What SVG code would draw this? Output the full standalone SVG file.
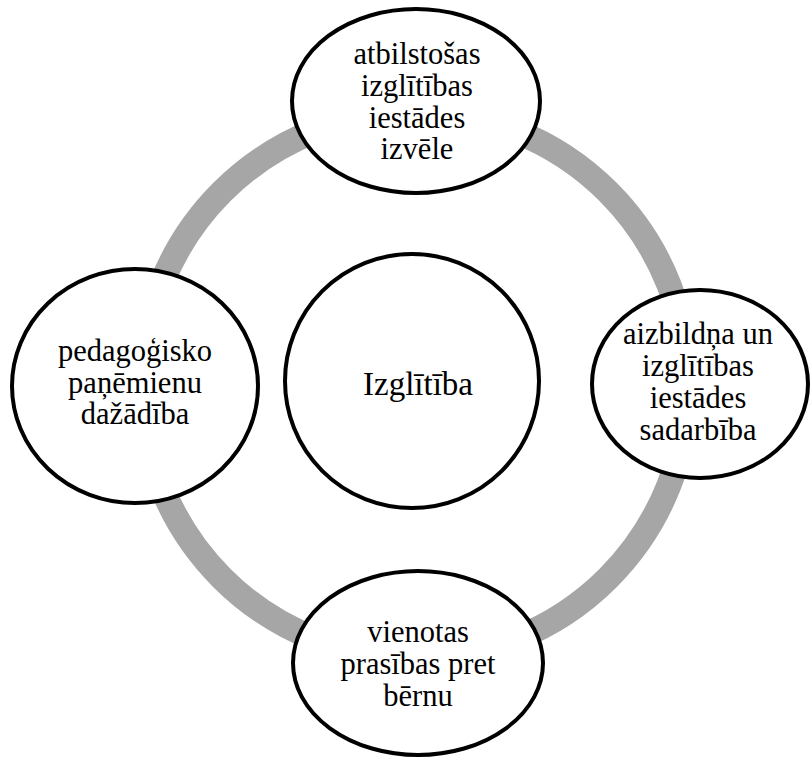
<svg xmlns="http://www.w3.org/2000/svg" width="811" height="758" viewBox="0 0 811 758">
  <style>
    .node { fill: #ffffff; stroke: #000000; stroke-width: 4; }
    .ring { fill: none; stroke: #a6a6a6; stroke-width: 25; }
    text { font-family: "Liberation Serif", "Times New Roman", serif; font-size: 30.5px; fill: #000000; text-anchor: middle; }
  </style>
  <rect width="811" height="758" fill="#ffffff"/>
  <g id="connectors">
    <circle class="ring" cx="415" cy="385" r="273"/>
  </g>
  <g id="center">
    <circle class="node" cx="412" cy="381" r="127"/>
    <text x="418" y="395" style="font-size:33px">Izglītība</text>
  </g>
  <g id="top">
    <ellipse class="node" cx="416" cy="101" rx="124" ry="92"/>
    <text x="417" y="64">atbilstošas</text>
    <text x="417" y="96">izglītības</text>
    <text x="417" y="127.5">iestādes</text>
    <text x="417" y="159">izvēle</text>
  </g>
  <g id="left">
    <ellipse class="node" cx="135" cy="386" rx="123" ry="117"/>
    <text x="135" y="361">pedagoģisko</text>
    <text x="135" y="392.5">paņēmienu</text>
    <text x="135" y="424">dažādība</text>
  </g>
  <g id="right">
    <ellipse class="node" cx="700" cy="384" rx="108" ry="94"/>
    <text x="698" y="344">aizbildņa un</text>
    <text x="698" y="376">izglītības</text>
    <text x="698" y="408">iestādes</text>
    <text x="698" y="440">sadarbība</text>
  </g>
  <g id="bottom">
    <ellipse class="node" cx="418" cy="663" rx="125" ry="92"/>
    <text x="418" y="642">vienotas</text>
    <text x="418" y="674">prasības pret</text>
    <text x="418" y="706">bērnu</text>
  </g>
</svg>
